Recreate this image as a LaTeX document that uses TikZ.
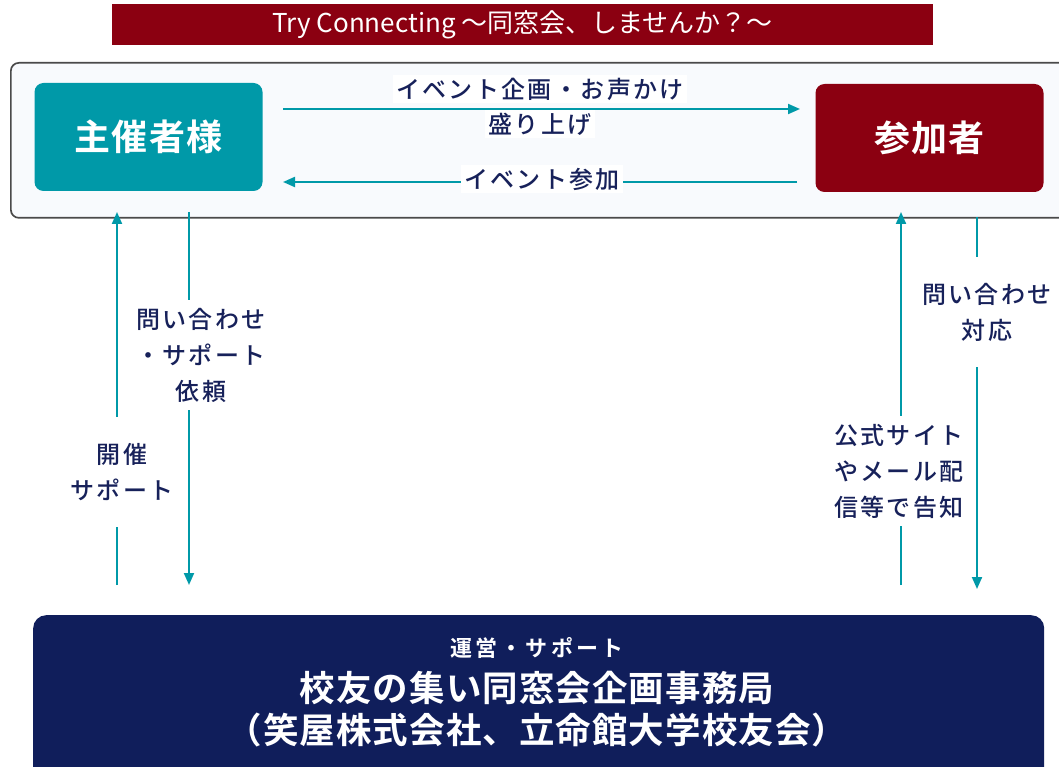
\documentclass[tikz,border=0pt]{standalone}
\usepackage{fontspec}
\setmainfont{Noto Sans CJK JP}
\newfontfamily\lblfont[LetterSpace=10]{Noto Sans CJK JP Medium}
\newfontfamily\boldfont[LetterSpace=3]{Noto Sans CJK JP Bold}
\newfontfamily\smallbold[LetterSpace=15]{Noto Sans CJK JP Bold}
\usetikzlibrary{arrows.meta}
\definecolor{teal1}{HTML}{0099A8}
\definecolor{red1}{HTML}{8B0011}
\definecolor{navy1}{HTML}{101E5B}
\definecolor{ink}{HTML}{17215A}
\definecolor{panelfill}{HTML}{F8FAFD}
\definecolor{frame}{HTML}{4A4A4A}
\begin{document}
\begin{tikzpicture}[x=1pt,y=-1pt,
  arr/.style={draw=teal1, line width=2pt, -{Triangle[length=12pt,width=10pt]}},
  lbl/.style={text=ink, font=\lblfont\fontsize{24}{36}\selectfont, align=center, inner xsep=3pt, inner ysep=3pt, fill=white},
  vlbl/.style={lbl, minimum height=110pt},
  actor/.style={rounded corners=9pt, minimum width=228pt, minimum height=108pt, text=white, font=\boldfont\fontsize{36}{40}\selectfont},
  whitebig/.style={text=white, font=\boldfont\fontsize{35.5}{40}\selectfont, inner sep=0pt}
]
\useasboundingbox (0,0) rectangle (1059,767);

% title banner
\node[fill=red1, minimum width=821pt, minimum height=41pt, text=white, inner sep=0pt,
      font=\fontsize{26}{30}\selectfont] (title) at (522.5,24.5) {Try Connecting ～同窓会、しませんか？～};

% outer panel
\node[draw=frame, fill=panelfill, line width=1.7pt, rounded corners=8pt,
      minimum width=1060pt, minimum height=155pt, anchor=north west] (panel) at (10,62) {};

% actor boxes
\node[actor, fill=teal1] (host) at (148.5,137) {主催者様};
\node[actor, fill=red1] (part) at (929.5,138) {参加者};

% bottom office box
\node[fill=navy1, rounded corners=13pt, minimum width=1011pt, minimum height=170pt, anchor=north west] (office) at (33,615) {};
\node[text=white, font=\smallbold\fontsize{22}{26}\selectfont, inner sep=0pt] (op) at (537,648) {運営・サポート};
\node[whitebig] (name) at (537,688) {校友の集い同窓会企画事務局};
\node[whitebig] (org) at (537,730) {（笑屋株式会社、立命館大学校友会）};

% endpoints
\coordinate (t1) at (283,109);
\coordinate (t2) at (800,109);
\coordinate (b1) at (797,182);
\coordinate (b2) at (283,182);
\coordinate (lu1) at (117,585);
\coordinate (lu2) at (117,212);
\coordinate (ld1) at (189,212);
\coordinate (ld2) at (189,585);
\coordinate (ru1) at (901,585);
\coordinate (ru2) at (901,212);
\coordinate (rd1) at (977,217);
\coordinate (rd2) at (977,589);

% horizontal connectors
\draw[arr] (t1) -- (t2);
\draw[arr] (b1) -- (b2);
% vertical connectors
\draw[arr] (lu1) -- (lu2);
\draw[arr] (ld1) -- (ld2);
\draw[arr] (ru1) -- (ru2);
\draw[arr] (rd1) -- (rd2);

% labels
\node[lbl] (l1) at (540,89) {イベント企画・お声かけ};
\node[lbl] (l2) at (540,124) {盛り上げ};
\node[lbl] (l3) at (542,179) {イベント参加};
\node[vlbl] (l4) at (122,472) {開催\\サポート};
\node[vlbl] (l5) at (201,355) {問い合わせ\\・サポート\\依頼};
\node[vlbl] (l6) at (899,471) {公式サイト\\やメール配\\信等で告知};
\node[vlbl] (l7) at (987,312) {問い合わせ\\対応};
\end{tikzpicture}
\end{document}
